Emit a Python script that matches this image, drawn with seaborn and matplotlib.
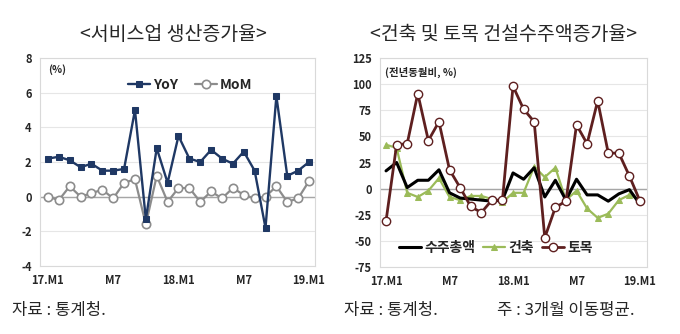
import numpy as np
import pandas as pd
import matplotlib
matplotlib.use("Agg")
import matplotlib.pyplot as plt
import seaborn as sns

months = list(range(25))
tick_pos = [0, 6, 12, 18, 24]
tick_labels = ["17.M1", "M7", "18.M1", "M7", "19.M1"]

yoy = [2.2, 2.3, 2.1, 1.7, 1.9, 1.5, 1.5, 1.6, 5.0, -1.3, 2.8, 0.8, 3.5,
       2.2, 2.0, 2.7, 2.2, 1.9, 2.6, 1.5, -1.8, 5.8, 1.2, 1.5, 2.0]
mom = [0.0, -0.2, 0.6, 0.0, 0.2, 0.4, -0.1, 0.8, 1.0, -1.6, 1.2, -0.3, 0.5,
       0.5, -0.3, 0.3, -0.1, 0.5, 0.1, -0.1, 0.0, 0.6, -0.3, -0.1, 0.9]

total = [17, 25, 1, 8, 8, 18, -4, -9, -10, -11, -12, -11, 15,
         9, 20, -8, 8, -11, 9, -6, -6, -12, -5, -1, -15]
building = [42, 39, -4, -8, -2, 10, -8, -11, -7, -7, -10, -13, -4,
            -4, 21, 11, 20, -11, -2, -19, -28, -24, -11, -6, -11]
civil = [-31, 42, 43, 91, 46, 64, 18, 1, -17, -23, -11, -11, 98,
         76, 64, -47, -18, -12, 61, 43, 84, 34, 34, 12, -12]

sns.set_theme(style="white")
plt.rcParams['font.family'] = ['Noto Sans CJK KR', 'DejaVu Sans']
plt.rcParams['axes.unicode_minus'] = False

fig = plt.figure(figsize=(6.8, 3.34), dpi=100)
W, H = 680, 334

def ax_rect(l, t, r, b):
    return [l / W, 1 - b / H, (r - l) / W, (b - t) / H]

axL = fig.add_axes(ax_rect(40, 58, 315, 266))
axR = fig.add_axes(ax_rect(380, 58, 647, 267))

dfL = pd.DataFrame({"m": months, "YoY": yoy, "MoM": mom})
dfR = pd.DataFrame({"m": months, "수주총액": total, "건축": building, "토목": civil})

navy = "#1F3864"
gray = "#8C8C8C"
green = "#9BBB59"
brown = "#5E1F1F"

def style_axes(ax, yticks, ylim, xlim):
    ax.set_ylim(*ylim)
    ax.set_xlim(*xlim)
    ax.set_yticks(yticks)
    ax.set_yticklabels([str(v) for v in yticks], fontsize=8, fontweight="bold")
    ax.set_xticks(tick_pos)
    ax.set_xticklabels(tick_labels, fontsize=8, fontweight="bold")
    ax.tick_params(axis="both", length=0, pad=6)
    for yv in yticks:
        ax.axhline(yv, color="#E6E6E6", lw=0.8, zorder=0)
    ax.axhline(0, color="#A6A6A6", lw=1.0, zorder=1)
    for s in ax.spines.values():
        s.set_color("#D9D9D9")
        s.set_linewidth(0.8)
    ax.set_xlabel("")
    ax.set_ylabel("")

sns.lineplot(data=dfL, x="m", y="MoM", ax=axL, color=gray, lw=1.6,
             marker="o", markersize=6, markerfacecolor="white",
             markeredgecolor=gray, markeredgewidth=1.2, zorder=3, label="MoM")
sns.lineplot(data=dfL, x="m", y="YoY", ax=axL, color=navy, lw=1.7,
             marker="s", markersize=4, markerfacecolor=navy,
             markeredgecolor=navy, zorder=4, label="YoY")
style_axes(axL, [-4, -2, 0, 2, 4, 6, 8], (-4, 8), (-0.73, 24.55))
h, l = axL.get_legend_handles_labels()
axL.legend([h[1], h[0]], [l[1], l[0]], loc="upper left",
           bbox_to_anchor=(0.3, 0.93), ncol=2, frameon=False,
           prop={"weight": "bold", "size": 10}, handlelength=1.6,
           handletextpad=0.2, columnspacing=1.2, borderaxespad=0)
axL.text(0.03, 0.97, "(%)", transform=axL.transAxes, fontsize=7.5,
         fontweight="bold", va="top", ha="left")

sns.lineplot(data=dfR, x="m", y="건축", ax=axR, color=green, lw=1.6,
             marker="^", markersize=5, markerfacecolor=green,
             markeredgecolor=green, zorder=3, label="건축")
sns.lineplot(data=dfR, x="m", y="수주총액", ax=axR, color="black", lw=2.2,
             zorder=4, label="수주총액")
sns.lineplot(data=dfR, x="m", y="토목", ax=axR, color=brown, lw=2.0,
             marker="o", markersize=6, markerfacecolor="white",
             markeredgecolor=brown, markeredgewidth=1.0, zorder=5, label="토목")
style_axes(axR, [-75, -50, -25, 0, 25, 50, 75, 100, 125], (-75, 125), (-0.57, 24.66))
h, l = axR.get_legend_handles_labels()
axR.legend([h[1], h[0], h[2]], [l[1], l[0], l[2]], loc="lower left",
           bbox_to_anchor=(0.05, 0.03), ncol=3, frameon=False,
           prop={"weight": "bold", "size": 10}, handlelength=1.6,
           handletextpad=0.2, columnspacing=0.6, borderaxespad=0)
axR.text(0.02, 0.96, "(전년동월비, %)", transform=axR.transAxes, fontsize=7.5,
         fontweight="bold", va="top", ha="left")

fig.text(173 / W, 1 - 35 / H, "<서비스업 생산증가율>", fontsize=14,
         ha="center", va="center", fontweight="medium")
fig.text(503 / W, 1 - 35 / H, "<건축 및 토목 건설수주액증가율>", fontsize=14,
         ha="center", va="center", fontweight="medium")
fig.text(12 / W, 1 - 310 / H, "자료 : 통계청.", fontsize=12, ha="left", va="center")
fig.text(344 / W, 1 - 310 / H, "자료 : 통계청.", fontsize=12, ha="left", va="center")
fig.text(497 / W, 1 - 310 / H, "주 : 3개월 이동평균.", fontsize=12, ha="left", va="center")

fig.savefig("out.png", dpi=100)
